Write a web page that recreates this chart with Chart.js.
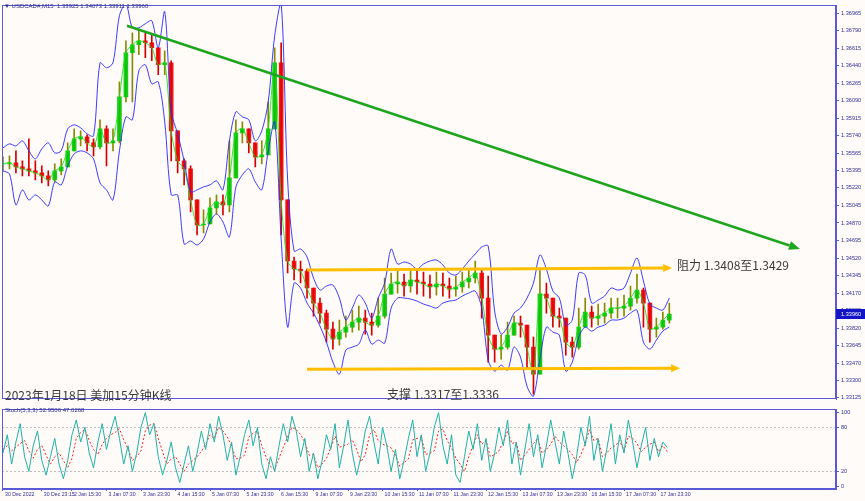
<!DOCTYPE html>
<html><head><meta charset="utf-8">
<script src="https://cdn.jsdelivr.net/npm/chart.js@4.4.0/dist/chart.umd.min.js"></script>
<style>
html,body{margin:0;padding:0;background:#fffbf8;}
#wrap{position:relative;width:865px;height:501px;overflow:hidden;background:#fffbf8;}
#c1{position:absolute;left:0;top:0;}
#c2{position:absolute;left:0;top:404px;}
.t{position:absolute;white-space:nowrap;line-height:1;}
.cjk{font-family:"Noto Sans CJK SC","Noto Sans",sans-serif;font-size:12px;color:#3a3a3a;}
.small{font-family:"Liberation Sans","DejaVu Sans",sans-serif;font-size:6px;color:#2b2b8c;}
</style></head>
<body>
<div id="wrap">
<canvas id="c1" width="865" height="405"></canvas>
<canvas id="c2" width="865" height="97"></canvas>
<div class="t small" style="left:4px;top:3px;">&#9660; USDCAD#,M15&nbsp; 1.33925 1.34073 1.33911 1.33960</div>
<div class="t cjk" style="left:5px;top:389px;">2023年1月18日 美加15分钟K线</div>
<div class="t cjk" style="left:387px;top:388px;">支撑 1.3317至1.3336</div>
<div class="t cjk" style="left:677px;top:259px;">阻力 1.3408至1.3429</div>
<div class="t small" style="left:5px;top:407px;">Stoch(5,3,3) 52.9506 47.0268</div>
</div>
<script>
// ---- price data: one point every 3 trading hours ----
const close = [
1.3546,1.3547,1.3543,1.3541,1.3539,1.3537,1.3534,1.3530,1.3539,1.3543,
1.3559,1.3571,1.3573,1.3567,1.3563,1.3581,1.3567,1.3569,1.3613,1.3657,
1.3665,1.3669,1.3667,1.3662,1.3645,1.3647,1.3579,1.3549,1.3541,1.3510,
1.3485,1.3486,1.3502,1.3508,1.3505,1.3532,1.3577,1.3581,1.3567,1.3553,
1.3555,1.3581,1.3647,1.3510,1.3449,1.3441,1.3439,1.3422,1.3407,1.3397,
1.3381,1.3371,1.3378,1.3383,1.3388,1.3392,1.3388,1.3385,1.3394,1.3416,
1.3426,1.3428,1.3424,1.3430,1.3428,1.3426,1.3423,1.3426,1.3424,1.3421,
1.3423,1.3428,1.3432,1.3437,1.3412,1.3375,1.3361,1.3363,1.3375,1.3387,
1.3385,1.3363,1.3336,1.3416,1.3412,1.3394,1.3392,1.3368,1.3363,1.3383,
1.3398,1.3392,1.3394,1.3397,1.3402,1.3402,1.3404,1.3412,1.3420,1.3407,
1.3381,1.3383,1.3390,1.3396];
const high = [
1.3553,1.3554,1.3559,1.3549,1.3571,1.3549,1.3544,1.3539,1.3546,1.3551,
1.3567,1.3581,1.3579,1.3575,1.3571,1.3590,1.3584,1.3581,1.3628,1.3669,
1.3677,1.3679,1.3677,1.3675,1.3657,1.3659,1.3649,1.3559,1.3551,1.3544,
1.3505,1.3500,1.3512,1.3515,1.3515,1.3569,1.3590,1.3588,1.3579,1.3564,
1.3569,1.3608,1.3662,1.3667,1.3471,1.3453,1.3449,1.3441,1.3422,1.3412,
1.3400,1.3388,1.3390,1.3394,1.3400,1.3404,1.3400,1.3397,1.3412,1.3432,
1.3437,1.3440,1.3436,1.3441,1.3440,1.3438,1.3435,1.3438,1.3437,1.3432,
1.3434,1.3438,1.3441,1.3449,1.3441,1.3434,1.3375,1.3375,1.3388,1.3394,
1.3394,1.3383,1.3373,1.3440,1.3427,1.3407,1.3402,1.3392,1.3373,1.3402,
1.3412,1.3404,1.3406,1.3407,1.3412,1.3412,1.3415,1.3424,1.3436,1.3422,
1.3394,1.3392,1.3398,1.3407];
const low = [
1.3539,1.3541,1.3537,1.3534,1.3534,1.3530,1.3527,1.3524,1.3528,1.3535,
1.3543,1.3559,1.3564,1.3559,1.3554,1.3561,1.3544,1.3559,1.3567,1.3608,
1.3608,1.3655,1.3652,1.3649,1.3635,1.3635,1.3549,1.3537,1.3525,1.3498,
1.3475,1.3477,1.3486,1.3496,1.3495,1.3498,1.3544,1.3567,1.3557,1.3543,
1.3546,1.3559,1.3598,1.3475,1.3437,1.3430,1.3427,1.3412,1.3394,1.3387,
1.3368,1.3361,1.3365,1.3373,1.3378,1.3380,1.3376,1.3375,1.3383,1.3392,
1.3416,1.3417,1.3414,1.3418,1.3416,1.3414,1.3412,1.3415,1.3414,1.3412,
1.3414,1.3418,1.3422,1.3427,1.3392,1.3348,1.3348,1.3351,1.3361,1.3377,
1.3373,1.3341,1.3316,1.3363,1.3397,1.3383,1.3383,1.3355,1.3353,1.3361,
1.3387,1.3383,1.3385,1.3387,1.3392,1.3392,1.3394,1.3400,1.3407,1.3383,
1.3368,1.3373,1.3381,1.3387];
const bandUpper = [
1.3562,1.3566,1.3564,1.3569,1.3559,1.3551,1.3561,1.3567,1.3557,1.3559,
1.3581,1.3585,1.3582,1.3576,1.3574,1.3647,1.3642,1.3647,1.3694,1.3706,
1.3682,1.3682,1.3686,1.3689,1.3662,1.3698,1.3598,1.3576,1.3549,1.3518,
1.3520,1.3523,1.3525,1.3529,1.3520,1.3569,1.3598,1.3593,1.3590,1.3569,
1.3579,1.3608,1.3674,1.3706,1.3530,1.3459,1.3461,1.3453,1.3432,1.3420,
1.3424,1.3425,1.3412,1.3390,1.3402,1.3415,1.3407,1.3392,1.3412,1.3427,
1.3461,1.3446,1.3448,1.3446,1.3441,1.3446,1.3449,1.3450,1.3445,1.3437,
1.3435,1.3441,1.3449,1.3456,1.3463,1.3464,1.3399,1.3376,1.3383,1.3397,
1.3402,1.3412,1.3427,1.3455,1.3441,1.3419,1.3412,1.3385,1.3390,1.3437,
1.3435,1.3407,1.3410,1.3414,1.3422,1.3420,1.3422,1.3437,1.3452,1.3429,
1.3406,1.3402,1.3400,1.3412];
const bandLower = [
1.3539,1.3536,1.3505,1.3520,1.3510,1.3515,1.3510,1.3504,1.3528,1.3525,
1.3544,1.3556,1.3559,1.3557,1.3551,1.3527,1.3520,1.3510,1.3559,1.3593,
1.3590,1.3639,1.3645,1.3626,1.3628,1.3588,1.3515,1.3515,1.3466,1.3469,
1.3465,1.3471,1.3488,1.3496,1.3488,1.3473,1.3523,1.3535,1.3541,1.3528,
1.3520,1.3559,1.3588,1.3471,1.3383,1.3427,1.3422,1.3407,1.3397,1.3384,
1.3368,1.3348,1.3336,1.3360,1.3363,1.3366,1.3380,1.3366,1.3370,1.3367,
1.3402,1.3412,1.3412,1.3411,1.3409,1.3406,1.3404,1.3402,1.3407,1.3409,
1.3410,1.3414,1.3417,1.3419,1.3402,1.3350,1.3339,1.3345,1.3340,1.3363,
1.3353,1.3324,1.3314,1.3351,1.3383,1.3378,1.3375,1.3339,1.3348,1.3373,
1.3383,1.3379,1.3383,1.3385,1.3390,1.3390,1.3392,1.3397,1.3400,1.3368,
1.3361,1.3370,1.3379,1.3383];
const priceStepHours = 3;

// ---- stochastic (5,3,3): one point every 2 trading hours ----
const stochK = [
45,70,30,60,85,40,20,55,75,35, 15,40,65,30,10,35,70,90,60,80,
45,25,60,85,50,75,95,65,30,55, 20,45,80,100,70,85,40,15,35,60,
25,5,30,55,20,45,75,50,85,60, 95,70,35,60,15,40,70,90,55,80,
30,10,40,20,55,85,60,95,75,40, 65,20,45,10,35,70,50,85,25,55,
90,45,15,40,75,95,60,30,80,55, 20,50,10,35,65,90,40,70,20,45,
80,100,55,30,70,15,5,40,75,50, 85,35,65,20,45,80,55,90,30,60,
15,50,85,40,70,25,55,90,60,30, 75,45,10,40,80,55,95,35,65,20,
50,85,30,70,45,90,60,25,55,80, 35,65,40,60,52.95];
const stochD = [
50,55,48,53,58,62,48,38,50,55, 42,30,40,45,35,25,38,65,73,77,
62,50,43,57,65,70,73,78,63,50, 35,40,48,75,83,85,65,47,30,37,
40,30,20,30,35,40,47,57,70,65, 80,75,67,55,37,38,42,67,72,75,
55,40,27,23,38,53,67,80,77,70, 60,42,43,25,30,38,52,68,53,55,
57,63,50,33,43,70,77,62,57,55, 52,42,27,32,37,63,65,67,43,45,
48,75,78,62,52,38,30,20,40,55, 70,57,62,40,43,48,60,75,58,60,
35,42,50,58,65,45,50,57,68,60, 55,50,43,32,43,58,77,62,65,40,
45,52,55,62,48,68,65,58,47,53, 57,60,47,55,47.03];
const stochStepHours = 2;

// ---- axes ----
const priceTickValues = [1.36965,1.36790,1.36615,1.36440,1.36265,1.36090,1.35915,1.35740,1.35565,1.35395,1.35220,1.35045,1.34870,1.34695,1.34520,1.34345,1.34170,1.33995,1.33820,1.33645,1.33470,1.33300,1.33125];
const priceTickLabels = ['1.36965','1.36790','1.36615','1.36440','1.36265','1.36090','1.35915','1.35740','1.35565','1.35395','1.35220','1.35045','1.34870','1.34695','1.34520','1.34345','1.34170','1.33995','1.33820','1.33645','1.33470','1.33300','1.33125'];
const timeTickHours = [0,18,32,48,64,80,96,112,128,144,160,176,192,208,224,240,256,272,288,304];
const timeTickLabels = ['30 Dec 2022','30 Dec 23:15','2 Jan 15:30','3 Jan 07:30','3 Jan 23:30','4 Jan 15:30','5 Jan 07:30','5 Jan 23:30','6 Jan 15:30','9 Jan 07:30','9 Jan 23:30','10 Jan 15:30','11 Jan 07:30','11 Jan 23:30','12 Jan 15:30','13 Jan 07:30','13 Jan 23:30','16 Jan 15:30','17 Jan 07:30','17 Jan 23:30'];
const stochTickValues = [100,80,20,0];
const stochTickLabels = ['100','80','20','0'];

// ---- drawn annotations (hours, price) ----
const trendLine = [[57.5,1.3684],[369.6,1.3461]];
const resistanceLine = [[141,1.3440],[310.3,1.3442]];
const supportLine = [[141,1.3341],[314,1.3342]];
const lastPrice = 1.33960;

// ---- layout constants ----
const X_MIN = -0.46, X_MAX = 386.3;
const Y_MIN = 1.331054, Y_MAX = 1.370434;
const FRAME = '#5a5ad8';
const AXIS_TXT = '#30309a';
const tickFont = {family:'Liberation Sans', size:5.6};
const xTickFont = {family:'Liberation Sans', size:5.2};

const opens = close.map((c,i)=> i ? close[i-1] : c);
const bodyData = close.map((c,i)=>({x:i*priceStepHours, y:[opens[i], c]}));
const wickData = close.map((c,i)=>({x:i*priceStepHours, y:[Math.min(low[i],opens[i],c), Math.max(high[i],opens[i],c)]}));
const bodyColors = close.map((c,i)=> c>=opens[i] ? 'rgba(0,200,0,0.9)' : 'rgba(235,0,0,0.9)');
const wickColors = close.map((c,i)=> c>=opens[i] ? '#8a8a00' : '#d40000');
const closeData = close.map((v,i)=>({x:i*priceStepHours, y:v}));
const upData = bandUpper.map((v,i)=>({x:i*priceStepHours, y:v}));
const loData = bandLower.map((v,i)=>({x:i*priceStepHours, y:v}));

const framePlugin = {
  id:'frame',
  afterDraw(chart){
    const a = chart.chartArea, ctx = chart.ctx;
    ctx.save();
    ctx.strokeStyle = FRAME; ctx.lineWidth = 1;
    ctx.strokeRect(Math.round(a.left)+0.5, Math.round(a.top)+0.5, Math.round(a.right-a.left)-1, Math.round(a.bottom-a.top)-1);
    ctx.restore();
  }
};

function arrowLine(ctx, xs, ys, seg, color, width, headLen, headW){
  const x1 = xs.getPixelForValue(seg[0][0]), y1 = ys.getPixelForValue(seg[0][1]);
  const x2 = xs.getPixelForValue(seg[1][0]), y2 = ys.getPixelForValue(seg[1][1]);
  const ang = Math.atan2(y2-y1, x2-x1);
  const bx = x2 - headLen*Math.cos(ang), by = y2 - headLen*Math.sin(ang);
  ctx.save();
  ctx.strokeStyle = color; ctx.fillStyle = color; ctx.lineWidth = width; ctx.lineCap = 'butt';
  ctx.beginPath(); ctx.moveTo(x1,y1); ctx.lineTo(bx,by); ctx.stroke();
  ctx.beginPath();
  ctx.moveTo(x2,y2);
  ctx.lineTo(bx + headW*Math.sin(ang), by - headW*Math.cos(ang));
  ctx.lineTo(bx - headW*Math.sin(ang), by + headW*Math.cos(ang));
  ctx.closePath(); ctx.fill();
  ctx.restore();
}

const annotPlugin = {
  id:'annot',
  afterDatasetsDraw(chart){
    const ctx = chart.ctx, xs = chart.scales.x, ys = chart.scales.y;
    arrowLine(ctx, xs, ys, resistanceLine, '#ffbf00', 3, 9, 4);
    arrowLine(ctx, xs, ys, supportLine, '#ffbf00', 3, 9, 4);
    arrowLine(ctx, xs, ys, trendLine, '#1ea51e', 2.5, 11, 4.5);
  },
  afterDraw(chart){
    const ctx = chart.ctx, ys = chart.scales.y, a = chart.chartArea;
    const y = Math.round(ys.getPixelForValue(lastPrice));
    ctx.save();
    ctx.fillStyle = '#1414c8';
    ctx.fillRect(a.right, y-5, 29, 10);
    ctx.fillStyle = '#ffffff';
    ctx.font = '5.6px "Liberation Sans"';
    ctx.textBaseline = 'middle'; ctx.textAlign = 'left';
    ctx.fillText('1.33960', a.right+5, y+0.5);
    ctx.restore();
  }
};

new Chart(document.getElementById('c1'), {
  type:'line',
  data:{datasets:[
    {type:'line', data:upData, borderColor:'rgba(40,40,255,0.9)', borderWidth:1, pointRadius:0, tension:0.3, order:0},
    {type:'line', data:loData, borderColor:'rgba(40,40,255,0.9)', borderWidth:1, pointRadius:0, tension:0.3, order:0},
    {type:'line', data:closeData, borderColor:'rgba(20,225,20,0.85)', borderWidth:1, pointRadius:0, tension:0.3, order:1},
    {type:'bar', data:bodyData, backgroundColor:bodyColors, borderWidth:0, barThickness:4, grouped:false, order:2},
    {type:'bar', data:wickData, backgroundColor:wickColors, borderWidth:0, barThickness:1, grouped:false, order:3}
  ]},
  options:{
    responsive:false, animation:false, devicePixelRatio:1,
    layout:{padding:{left:2, top:2, right:0, bottom:1}},
    plugins:{legend:{display:false}, tooltip:{enabled:false}},
    scales:{
      x:{type:'linear', min:X_MIN, max:X_MAX, offset:false, display:false},
      y:{type:'linear', position:'right', min:Y_MIN, max:Y_MAX,
         afterFit(s){ s.width = 29; },
         afterBuildTicks(s){ s.ticks = priceTickValues.map(v=>({value:v})); },
         ticks:{autoSkip:false, callback:(v,i)=>priceTickLabels[i], font:tickFont, color:AXIS_TXT, padding:2},
         grid:{drawOnChartArea:false, drawTicks:true, tickLength:3, tickColor:FRAME},
         border:{display:true, color:FRAME}
      }
    }
  },
  plugins:[framePlugin, annotPlugin]
});

new Chart(document.getElementById('c2'), {
  type:'line',
  data:{datasets:[
    {data:stochK.map((v,j)=>({x:j*stochStepHours, y:v})), borderColor:'#1fb2a6', borderWidth:1, pointRadius:0, tension:0},
    {data:stochD.map((v,j)=>({x:j*stochStepHours, y:v})), borderColor:'#ff1e1e', borderWidth:1, borderDash:[2,2], pointRadius:0, tension:0}
  ]},
  options:{
    responsive:false, animation:false, devicePixelRatio:1,
    layout:{padding:{left:2, top:1, right:0, bottom:0}},
    plugins:{legend:{display:false}, tooltip:{enabled:false}},
    scales:{
      x:{type:'linear', min:X_MIN, max:X_MAX, offset:false, position:'bottom',
         afterFit(s){ s.height = 12; },
         afterBuildTicks(s){ s.ticks = timeTickHours.map(v=>({value:v})); },
         ticks:{autoSkip:false, maxRotation:0, minRotation:0, align:'start', labelOffset:2, padding:0,
                callback:(v,i)=>timeTickLabels[i], font:xTickFont, color:AXIS_TXT},
         grid:{drawOnChartArea:false, drawTicks:true, tickLength:2, tickColor:FRAME},
         border:{display:true, color:FRAME}
      },
      y:{type:'linear', position:'right', min:-3.9, max:104.5,
         afterFit(s){ s.width = 29; },
         afterBuildTicks(s){ s.ticks = stochTickValues.map(v=>({value:v})); },
         ticks:{autoSkip:false, callback:(v,i)=>stochTickLabels[i], font:tickFont, color:AXIS_TXT, padding:2},
         grid:{drawOnChartArea:true, drawTicks:true, tickLength:3, tickColor:FRAME,
               color:(c)=> (c.tick && (c.tick.value===20 || c.tick.value===80)) ? '#bdbdbd' : 'rgba(0,0,0,0)'},
         border:{display:true, color:FRAME, dash:[2,2]}
      }
    }
  },
  plugins:[framePlugin]
});
</script>
</body></html>
